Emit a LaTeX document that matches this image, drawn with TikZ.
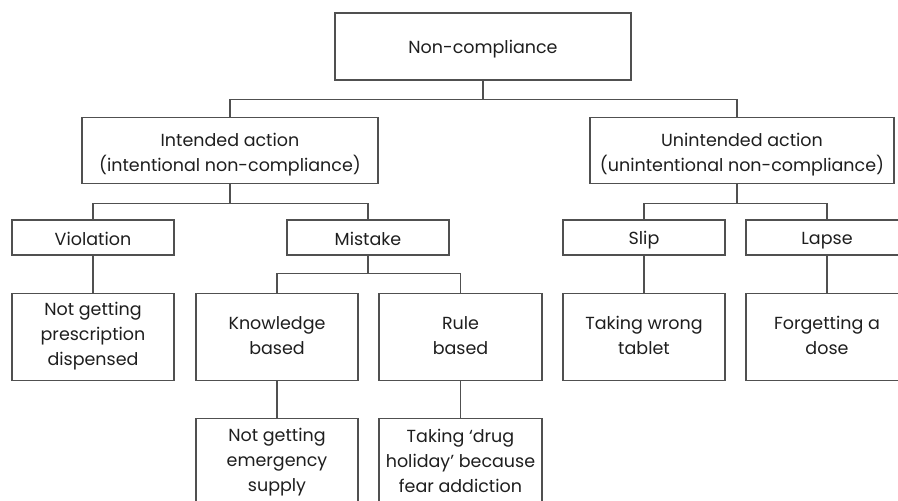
\documentclass[tikz,border=0pt]{standalone}
\usepackage{fontspec}
\usepackage{tikz}
\usetikzlibrary{positioning}
\newfontfamily\chartfont{Poppins}
\definecolor{linegray}{HTML}{505050}
\definecolor{textgray}{HTML}{1E1E1E}
\newcommand{\boxstrut}{\vrule width 0pt height 18pt depth 2pt}
\newcommand{\tallstrut}{\vrule width 0pt height 22pt depth 0pt}
\tikzset{
  box/.style={rectangle, draw=linegray, line width=1.1pt, align=center, inner sep=0pt, text=textgray,
    font=\chartfont\fontsize{17.5}{25}\selectfont, execute at begin node=\boxstrut, execute at end node=\boxstrut},
  wide/.style={box, minimum width=296pt, minimum height=66pt},
  small/.style={box, minimum width=162pt, minimum height=35pt},
  leaf/.style={box, minimum width=162pt, minimum height=87pt},
  link/.style={draw=linegray, line width=1.1pt}
}
\begin{document}
\begin{tikzpicture}[x=1pt, y=-1pt, node distance=37pt]
    \clip (0,0) rectangle (898,501);
    % Top levels
    \node[wide, minimum height=67pt] (root) at (483,46.5) {Non-compliance};
    \node[wide] (intended) at (230,150.5) {\tallstrut Intended action\\(intentional non-compliance)};
    \node[wide, minimum width=304pt] (unintended) at (742,150.5) {\tallstrut Unintended action\\(unintentional non-compliance)};
    % Second level
    \node[small] (violation) at (93,237.5) {Violation};
    \node[small] (mistake) at (368,237.5) {Mistake};
    \node[small] (slip) at (644,237.5) {Slip};
    \node[small] (lapse) at (827,237.5) {Lapse};
    % Leaves
    \node[leaf, below=of violation] (prescription) {Not getting\\prescription\\dispensed};
    \node[leaf, below=of mistake, xshift=-91pt] (knowledge) {Knowledge\\based};
    \node[leaf, below=of mistake, xshift=92.5pt, minimum width=163pt] (rule) {Rule\\based};
    \node[leaf, below=of slip] (wrongtab) {Taking wrong\\tablet};
    \node[leaf, below=of lapse] (forget) {Forgetting a\\dose};
    \node[leaf, below=of knowledge] (emergency) {Not getting\\emergency\\supply};
    \node[leaf, below=of rule, minimum width=163pt] (holiday) {Taking ‘drug\\holiday’ because\\fear addiction};

    % Connectors
    \draw[link] (root.south) -- ++(0,19) -| (intended.north);
    \draw[link] (root.south) -- ++(0,19) -| ([xshift=-5pt]unintended.north);
    \draw[link] (intended.south) -- ++(0,19) -| (violation.north);
    \draw[link] (intended.south) -- ++(0,19) -| (mistake.north);
    \draw[link] ([xshift=-5pt]unintended.south) -- ++(0,19) -| (slip.north);
    \draw[link] ([xshift=-5pt]unintended.south) -- ++(0,19) -| (lapse.north);
    \draw[link] (mistake.south) -- ++(0,18) -| (knowledge.north);
    \draw[link] (mistake.south) -- ++(0,18) -| (rule.north);
    \draw[link] (violation) -- (prescription);
    \draw[link] (knowledge) -- (emergency);
    \draw[link] (rule) -- (holiday);
    \draw[link] (slip) -- (wrongtab);
    \draw[link] (lapse) -- (forget);
\end{tikzpicture}
\end{document}
